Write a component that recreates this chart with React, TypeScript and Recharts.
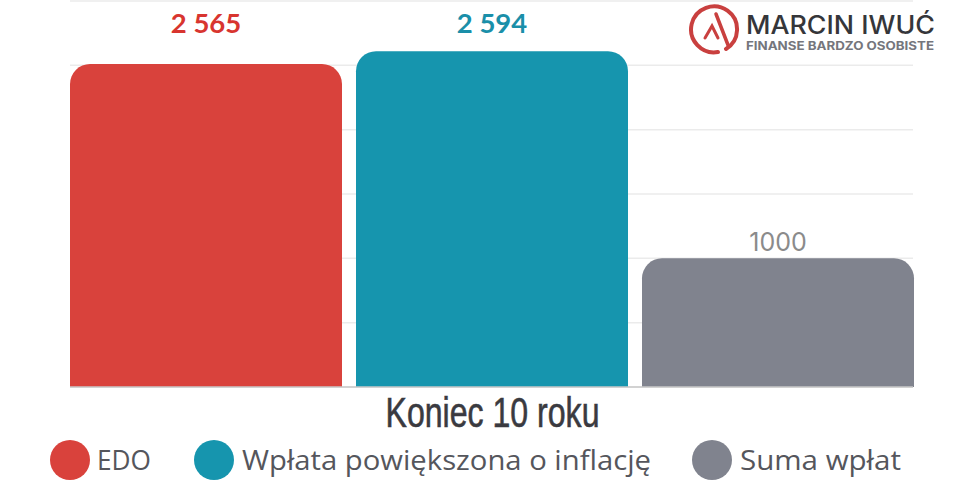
import React from 'react';
import { BarChart, Bar, XAxis, YAxis, CartesianGrid, LabelList, Legend } from 'recharts';

const CATEGORIES = ['Koniec 10 roku'];
const SERIES_NAMES = ['EDO', 'Wpłata powiększona o inflację', 'Suma wpłat'];
// bar heights as drawn in the picture, the printed labels are kept apart
const BAR_HEIGHTS = [2510, 2610, 1000];
const PRINTED_LABELS = ['2 565', '2 594', '1000'];
const COLORS = ['#d9423c', '#1695ae', '#80838e'];
const LABEL_COLORS = ['#d8352f', '#1a8fa9', '#8b8b8b'];
const Y_TICKS = [0, 500, 1000, 1500, 2000, 2500, 3000];

const data = CATEGORIES.map((name) => ({
  name,
  s0: BAR_HEIGHTS[0],
  s1: BAR_HEIGHTS[1],
  s2: BAR_HEIGHTS[2],
}));

const LABEL_Y = [33, 33, 251];
const LEGEND_ITEMS = [
  { dotX: 70, textX: 97, width: 54 },
  { dotX: 214, textX: 242, width: 409 },
  { dotX: 712, textX: 740, width: 161 },
];

const makeLabel = (i: number) => (props: any) => {
  const { x, width } = props;
  return (
    <text
      x={x + width / 2}
      y={LABEL_Y[i]}
      textAnchor="middle"
      fill={LABEL_COLORS[i]}
      fontFamily={i < 2 ? 'Lato' : 'Inter'}
      fontWeight={i < 2 ? 700 : 400}
      fontSize={i < 2 ? 27.5 : 25}
    >
      {PRINTED_LABELS[i]}
    </text>
  );
};

const TitleTick = (props: any) => {
  const { x, y, payload } = props;
  return (
    <text
      x={x + 1}
      y={y + 32}
      textAnchor="middle"
      fill="#3a3a40"
      stroke="#3a3a40"
      strokeWidth={0.6}
      fontFamily="'Liberation Sans Narrow', 'Liberation Sans'"
      fontSize={42}
      textLength={214}
      lengthAdjust="spacingAndGlyphs"
    >
      {payload.value}
    </text>
  );
};

const renderLegend = (props: any) => (
  <div style={{ position: 'relative', width: 962, height: 50 }}>
    {props.payload.map((entry: any, i: number) => (
      <React.Fragment key={entry.value}>
        <div
          style={{
            position: 'absolute',
            left: LEGEND_ITEMS[i].dotX - 20,
            top: 0,
            width: 40,
            height: 40,
            borderRadius: '50%',
            background: entry.color,
          }}
        />
        <svg style={{ position: 'absolute', left: 0, top: 0 }} width={962} height={50}>
          <text
            x={LEGEND_ITEMS[i].textX}
            y={30}
            fill="#55565c"
            fontFamily="'Open Sans'"
            fontSize={27}
            textLength={LEGEND_ITEMS[i].width}
            lengthAdjust="spacingAndGlyphs"
          >
            {entry.value}
          </text>
        </svg>
      </React.Fragment>
    ))}
  </div>
);

const Logo = () => (
  <svg style={{ position: 'absolute', left: 680, top: 2 }} width={270} height={56}>
    <g fill="none" stroke="#c9403f" strokeLinecap="round">
      <path d="M 38 50 A 23 23 0 1 1 46 47" strokeWidth={4} />
      <path d="M 25 36 L 32 24 L 38 36" strokeWidth={3} />
      <path d="M 36 12 L 48 43" strokeWidth={3.5} />
    </g>
    <text x={66} y={32} fill="#35363a" fontFamily="Inter" fontWeight={500} fontSize={25} textLength={189} lengthAdjust="spacingAndGlyphs">
      MARCIN IWUĆ
    </text>
    <text x={66} y={48} fill="#75767c" fontFamily="Inter" fontWeight={700} fontSize={11.5} textLength={188} lengthAdjust="spacingAndGlyphs">
      FINANSE BARDZO OSOBISTE
    </text>
  </svg>
);

export default function App() {
  return (
    <div style={{ position: 'absolute', left: 0, top: 0, width: 962, height: 495, background: '#fff' }}>
      <BarChart
        width={962}
        height={495}
        data={data}
        margin={{ top: 1, right: 49, bottom: 18, left: 70 }}
        barCategoryGap={0}
        barGap={14}
      >
        <CartesianGrid vertical={false} stroke="#ebebeb" strokeWidth={1.5} />
        <YAxis hide width={0} domain={[0, 3000]} ticks={Y_TICKS} />
        <XAxis
          dataKey="name"
          height={40}
          axisLine={{ stroke: '#c9c9c9', strokeWidth: 1.5 }}
          tickLine={false}
          tick={<TitleTick />}
          interval={0}
        />
        <Legend
          content={renderLegend}
          itemSorter={null}
          height={50}
          wrapperStyle={{ position: 'absolute', left: 0, top: 440, width: 962, height: 50, bottom: 'auto' }}
        />
        {SERIES_NAMES.map((name, i) => (
          <Bar
            key={name}
            dataKey={`s${i}`}
            name={name}
            fill={COLORS[i]}
            radius={[20, 20, 0, 0]}
            isAnimationActive={false}
          >
            <LabelList dataKey={`s${i}`} content={makeLabel(i)} />
          </Bar>
        ))}
      </BarChart>
      <Logo />
    </div>
  );
}
